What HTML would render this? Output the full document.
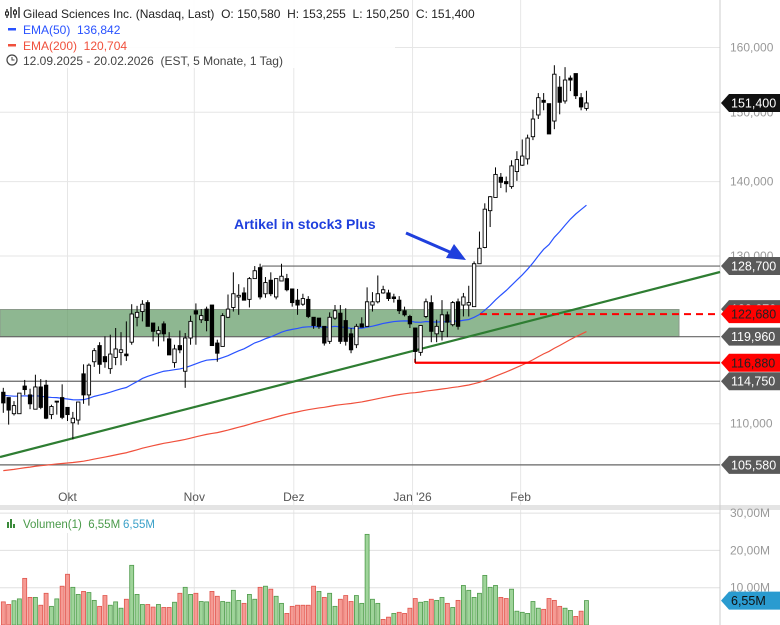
<!DOCTYPE html>
<html><head><meta charset="utf-8"><style>
body{margin:0;background:#fff;font-family:"Liberation Sans",sans-serif}
svg{display:block}
</style></head><body>
<svg id="c" width="780" height="625" xmlns="http://www.w3.org/2000/svg" font-family="Liberation Sans, sans-serif"></svg>
<script>
const opens=[113.5,112.9,111.1,111.1,114.2,113.2,111.6,114.1,114.3,111.0,112.5,112.9,111.8,110.1,110.4,115.6,113.2,117.0,118.9,117.6,116.2,117.5,118.1,117.9,119.3,122.3,123.0,124.1,121.6,120.3,121.5,119.7,116.9,118.9,115.9,119.8,123.1,122.0,123.3,123.8,119.2,118.8,122.3,123.5,124.8,125.3,124.5,127.1,128.5,125.2,126.9,124.8,126.8,127.1,125.8,124.4,123.9,124.5,122.3,122.2,121.2,119.4,122.2,122.8,121.9,120.3,119.0,121.5,121.2,123.8,124.2,125.3,125.3,124.8,124.4,123.1,122.4,121.0,118.1,122.4,124.1,120.3,120.6,122.6,121.4,124.2,123.8,123.8,123.6,129.0,131.1,136.0,137.8,140.6,140.0,139.3,141.4,142.3,143.2,146.4,149.6,151.8,151.3,148.7,153.8,151.7,155.2,155.9,152.2,150.58];
const highs=[114.0,112.9,112.5,113.4,114.9,113.9,115.5,115.0,114.9,112.1,112.5,114.4,111.8,111.3,112.4,116.7,116.8,118.6,119.3,120.0,120.2,121.0,120.5,121.8,123.9,123.7,124.4,124.4,121.6,121.2,121.8,120.5,119.0,120.7,120.4,122.5,124.0,123.3,123.6,123.8,119.6,122.8,125.1,127.9,126.4,126.0,127.3,128.7,129.0,127.3,127.9,127.1,129.0,127.7,125.8,125.8,125.2,124.9,122.3,122.2,121.2,122.9,123.8,123.8,123.4,121.0,121.5,122.3,126.0,125.4,127.5,126.2,125.7,125.2,124.9,123.6,122.6,121.0,121.3,124.6,125.0,122.0,124.4,123.0,124.3,124.6,125.3,126.2,129.3,133.2,137.0,138.0,142.0,141.2,140.7,143.0,144.3,146.0,146.7,150.4,152.9,152.9,151.3,157.2,155.5,156.9,155.6,155.9,152.9,153.255];
const lows=[111.2,109.9,110.9,111.1,113.2,111.6,111.6,111.6,110.5,110.5,111.0,110.5,110.3,108.3,109.9,112.2,112.0,116.4,115.6,116.3,115.6,116.6,116.6,117.1,119.0,121.2,121.8,121.2,119.4,118.8,119.4,117.8,116.3,118.0,114.0,119.0,119.0,121.6,120.6,118.9,117.0,118.8,122.2,123.0,122.6,124.4,123.5,127.1,124.5,124.7,124.9,124.5,126.8,125.5,123.6,122.6,123.7,122.2,120.9,120.9,118.9,119.1,122.0,119.1,118.9,118.0,118.6,121.1,121.2,123.0,124.0,125.2,124.3,124.1,122.7,122.4,121.0,116.9,117.7,122.2,119.3,119.3,119.5,119.9,121.2,120.8,122.4,122.4,123.6,129.0,131.0,133.8,137.8,139.1,138.5,139.0,140.1,142.2,142.4,145.9,149.0,150.3,146.8,147.5,149.7,151.3,153.2,152.0,150.3,150.25];
const closes=[112.3,111.5,112.0,113.4,113.8,112.2,114.1,111.8,110.6,111.9,112.4,110.7,111.0,110.6,112.4,113.2,116.6,118.3,116.7,117.0,117.9,118.5,118.4,117.7,122.7,122.9,123.9,121.2,120.6,120.7,120.3,117.8,118.5,118.4,119.8,121.8,122.7,122.5,121.9,118.9,118.0,122.5,123.3,125.2,125.0,124.4,127.1,128.1,124.8,126.6,125.2,127.1,127.4,125.7,124.1,123.8,124.6,122.4,121.3,121.2,119.2,122.3,123.1,119.4,119.4,118.4,121.2,121.1,124.2,124.2,125.2,125.7,124.6,124.6,123.1,122.6,121.5,118.2,121.3,124.2,120.6,121.2,122.6,121.7,124.1,121.2,124.8,124.1,129.0,131.0,136.2,137.9,141.0,139.9,139.7,142.2,143.1,143.6,146.2,149.0,152.2,151.5,146.8,155.8,151.5,154.9,154.9,152.5,150.8,151.4];
const volumes=[6.2,5.5,6.5,7.0,12.5,7.4,7.4,5.3,8.5,5.0,7.0,10.4,13.6,10.1,8.2,9.0,8.7,6.6,5.0,7.9,5.3,6.2,4.5,6.9,16.0,8.2,5.5,5.5,4.8,5.5,4.7,4.7,6.1,8.5,10.1,8.2,8.5,6.3,6.2,9.0,7.7,6.3,6.1,9.3,6.6,5.8,8.2,6.9,10.1,10.4,9.6,7.7,5.8,3.1,5.0,5.3,5.3,5.3,10.4,9.0,7.4,8.5,5.0,6.9,7.9,6.3,7.9,5.8,24.3,6.9,5.8,1.5,2.1,3.1,3.4,3.1,4.5,7.1,6.1,6.3,6.9,6.6,7.4,5.8,4.7,6.6,10.6,9.3,7.4,8.5,13.3,10.1,10.6,7.4,7.1,9.6,3.7,3.4,3.1,6.3,4.5,4.2,7.1,6.6,5.0,4.5,3.9,2.3,3.7,6.55];
const volDir=["rrggrrgrrg","grrggrggrr","gggrgggrrg","rrgrggrggr","rggggrggrg","rggrrrrrrg","rggrrrgggg","grrgrrrrgg","rggrgrgggg","gggrrggggg","grrrrggrrg"].join('');
const monthLabels=["Okt","Nov","Dez","Jan '26","Feb"];
const monthIdx=[12,35.7,54.3,76.5,96.7];
const priceTicks=[160,150,140,130,110];
const volTicks=[30,20,10];
const ema50Seed=113.2, ema200Seed=104.9;

const svg=document.getElementById('c');
const NS='http://www.w3.org/2000/svg';
function el(t,a,p){const e=document.createElementNS(NS,t);for(const k in a)e.setAttribute(k,a[k]);(p||svg).appendChild(e);return e;}
const PR=720;
function X(i){return 3.3+i*5.35;}
function Y(p){return 47.5+(Math.log(160)-Math.log(p))*1004;}
function VY(v){return 625-v*3.73;}

const grid=el('g',{});


priceTicks.forEach(t=>{el('line',{x1:0,x2:PR,y1:Y(t),y2:Y(t),stroke:'#e6e6e6'},grid);});
monthIdx.forEach(m=>{el('line',{x1:X(m),x2:X(m),y1:0,y2:625,stroke:'#e6e6e6'},grid);});
volTicks.forEach(t=>{el('line',{x1:0,x2:PR,y1:VY(t),y2:VY(t),stroke:'#e0e0e0'},grid);});
el('rect',{x:0,y:505,width:780,height:5,fill:'#e4e4e4'});
el('line',{x1:PR,x2:PR,y1:0,y2:625,stroke:'#ccc'});

const zone=el('rect',{x:0,y:Y(123.25),width:679,height:Y(119.96)-Y(123.25),fill:'#5f9a63',opacity:0.7,stroke:'#5a6e5a'});


[[128.7,262],[119.96,0],[114.75,0],[105.58,0]].forEach(l=>{
  const ln=el('line',{x1:l[1],x2:PR,y1:Y(l[0]),y2:Y(l[0]),stroke:'#666','stroke-width':1.2});
  
  
});
el('line',{x1:262,x2:262,y1:Y(128.7),y2:Y(128.7)+4,stroke:'#666'});
const tl=el('line',{x1:0,y1:457,x2:PR,y2:272,stroke:'#2e7d32','stroke-width':2.2});



function ema(seed,n){const a=2/(n+1);let e=seed;return closes.map(c=>(e=e+a*(c-e)));}
const e50=ema(ema50Seed,50), e200=ema(ema200Seed,200);
const p50=el('polyline',{points:e50.map((v,i)=>X(i)+','+Y(v)).join(' '),fill:'none',stroke:'#2952ff','stroke-width':1.2});


const p200=el('polyline',{points:e200.map((v,i)=>X(i)+','+Y(v)).join(' '),fill:'none',stroke:'#f0503c','stroke-width':1.2});



const rd=el('line',{x1:480,x2:PR,y1:Y(122.68),y2:Y(122.68),stroke:'#f00','stroke-width':2,'stroke-dasharray':'7,5'});


const rs=el('line',{x1:415,x2:PR,y1:Y(116.88),y2:Y(116.88),stroke:'#f00','stroke-width':2.2});


el('line',{x1:415,x2:415,y1:Y(116.88),y2:Y(116.88)-4,stroke:'#f00','stroke-width':1.5});

const cg=el('g',{});


closes.forEach((c,i)=>{
  const o=opens[i],x=X(i);
  const g=el('g',{},cg);
  
  
  el('line',{x1:x,x2:x,y1:Y(highs[i]),y2:Y(lows[i]),stroke:'#000','stroke-width':1},g);
  const t=Y(Math.max(o,c)),b=Y(Math.min(o,c));
  el('rect',{x:x-1.7,y:t,width:3.4,height:Math.max(1,b-t),fill:c>=o?'#fff':'#000',stroke:'#000','stroke-width':0.9},g);
});

const vg=el('g',{});


volumes.forEach((v,i)=>{
  const up=volDir[i]==='g';
  const r=el('rect',{x:X(i)-2,y:VY(v),width:4,height:625-VY(v),fill:up?'#9fd49a':'#f59b94',stroke:up?'#4e9a4a':'#e0544c','stroke-width':0.8},vg);
  
  
});

const an=el('text',{x:234,y:229,fill:'#1f3fdd','font-size':14,'font-weight':'bold'});
an.textContent='Artikel in stock3 Plus';


const ar=el('g',{});


el('line',{x1:406,y1:233,x2:452,y2:253,stroke:'#1f3fdd','stroke-width':3},ar);
el('polygon',{points:'466,260 446,258 454,244',fill:'#1f3fdd'},ar);

priceTicks.forEach(t=>{
  const tx=el('text',{x:730,y:Y(t)+4,fill:'#999','font-size':12});
  tx.textContent=t.toLocaleString('de-DE')+',000';
  
  
});
volTicks.forEach(t=>{
  const tx=el('text',{x:730,y:VY(t)+4,fill:'#999','font-size':12});
  tx.textContent=t+',00M';
  
  
});
monthLabels.forEach((m,i)=>{
  const tx=el('text',{x:X(monthIdx[i]),y:501,fill:'#555','font-size':12,'text-anchor':'middle'});
  tx.textContent=m;
  
  
});

function badge(y,txt,bg,fg,name){
  const g=el('g',{});
  
  
  el('polygon',{points:`721,${y} 729,${y-9} 780,${y-9} 780,${y+9} 729,${y+9}`,fill:bg},g);
  const t=el('text',{x:731,y:y+4.5,fill:fg,'font-size':12.5},g);t.textContent=txt;
}
badge(Y(123.3),'123,270','#5a5a5a','#fff','badge-123270');
badge(Y(128.7),'128,700','#5a5a5a','#fff','badge-128700');
badge(Y(119.96),'119,960','#5a5a5a','#fff','badge-119960');
badge(Y(114.75),'114,750','#5a5a5a','#fff','badge-114750');
badge(Y(105.58),'105,580','#5a5a5a','#fff','badge-105580');
badge(Y(122.68),'122,680','#ff0000','#222','badge-122680');
badge(Y(116.88),'116,880','#ff0000','#222','badge-116880');
badge(Y(151.4),'151,400','#111','#fff','badge-last-price');
badge(VY(6.55),'6,55M','#2a9bd0','#111','badge-volume');

const hd=el('g',{});


el('rect',{x:0,y:0,width:395,height:68,fill:'#fff',opacity:0.9},hd);
el('path',{d:'M7 9v9M11 7v11M15 9v9M19 7v11',stroke:'#222','stroke-width':1.3},hd);
el('rect',{x:5.5,y:12,width:3,height:3,fill:'#fff',stroke:'#222'},hd);
el('rect',{x:13.5,y:11,width:3,height:3,fill:'#fff',stroke:'#222'},hd);
let t=el('text',{x:23,y:18,fill:'#222','font-size':12},hd);t.textContent='Gilead Sciences Inc. (Nasdaq, Last)  O: 150,580  H: 153,255  L: 150,250  C: 151,400';
t.style.whiteSpace='pre';
el('rect',{x:8,y:28,width:8,height:2.5,fill:'#2952ff'},hd);
t=el('text',{x:23,y:34,fill:'#2952ff','font-size':12},hd);t.textContent='EMA(50)  136,842';t.style.whiteSpace='pre';
el('rect',{x:8,y:44,width:8,height:2.5,fill:'#f0503c'},hd);
t=el('text',{x:23,y:50,fill:'#f0503c','font-size':12},hd);t.textContent='EMA(200)  120,704';t.style.whiteSpace='pre';
el('circle',{cx:12,cy:60,r:5,fill:'none',stroke:'#444','stroke-width':1.2},hd);
el('path',{d:'M12 57v3h2.5',stroke:'#444',fill:'none'},hd);
t=el('text',{x:23,y:65,fill:'#444','font-size':12},hd);t.textContent='12.09.2025 - 20.02.2026  (EST, 5 Monate, 1 Tag)';t.style.whiteSpace='pre';

const vl=el('g',{});


el('rect',{x:3,y:514,width:155,height:19,fill:'#fff'},vl);
el('path',{d:'M8 528v-6M11 528v-9M14 528v-4',stroke:'#3a8a3a','stroke-width':2},vl);
t=el('text',{x:23,y:528,fill:'#4a9a4a','font-size':11.5},vl);t.textContent='Volumen(1)  6,55M';t.style.whiteSpace='pre';
t=el('text',{x:123,y:528,fill:'#3aa0c8','font-size':11.5},vl);t.textContent='6,55M';
</script>
</body></html>
